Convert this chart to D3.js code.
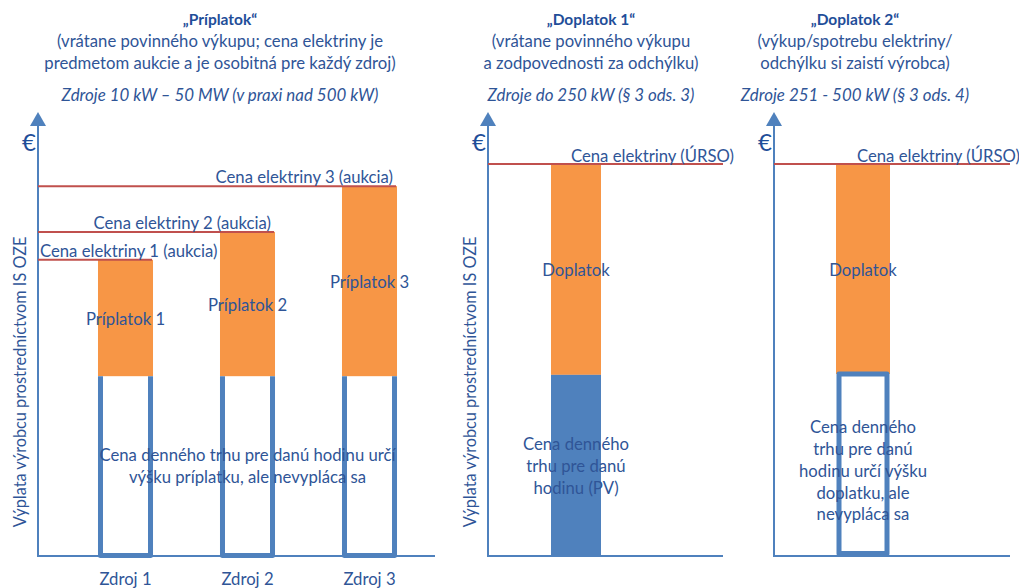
<!DOCTYPE html>
<html>
<head>
<meta charset="utf-8">
<script src="https://cdn.jsdelivr.net/npm/d3@7"></script>
<style>
  html, body { margin: 0; padding: 0; background: #fff; }
  svg { display: block; font-family: Lato, "Open Sans", sans-serif; }
</style>
</head>
<body>
<svg id="chart" width="1019" height="588"></svg>
<script>
// Schematic payout values (€, arbitrary units), one set per support scheme
const priplatokSources = ["Zdroj 1", "Zdroj 2", "Zdroj 3"];
const priplatokPrices = [66.7, 73.0, 83.3];      // auctioned electricity price
const priplatokMarket = [40.5, 40.5, 40.5];      // day-ahead market price
const priplatokLabels = ["Príplatok 1", "Príplatok 2", "Príplatok 3"];
const priplatokPriceLabels = ["Cena elektriny 1 (aukcia)", "Cena elektriny 2 (aukcia)", "Cena elektriny 3 (aukcia)"];

const doplatok1Price = 88.3;   // ÚRSO price
const doplatok1Market = 40.8;
const doplatok2Price = 88.3;
const doplatok2Market = 41.0;

const titles1 = ["„Príplatok“", "(vrátane povinného výkupu; cena elektriny je", "predmetom aukcie a je osobitná pre každý zdroj)", "Zdroje 10 kW – 50 MW (v praxi nad 500 kW)"];
const titles2 = ["„Doplatok 1“", "(vrátane povinného výkupu", "a zodpovednosti za odchýlku)", "Zdroje do 250 kW (§ 3 ods. 3)"];
const titles3 = ["„Doplatok 2“", "(výkup/spotrebu elektriny/", "odchýlku si zaistí výrobca)", "Zdroje 251 - 500 kW (§ 3 ods. 4)"];

const marketText1 = ["Cena denného trhu pre danú hodinu určí", "výšku príplatku, ale nevypláca sa"];
const marketText2 = ["Cena denného", "trhu pre danú", "hodinu (PV)"];
const marketText3 = ["Cena denného", "trhu pre danú", "hodinu určí výšku", "doplatku, ale", "nevypláca sa"];
const axisTitle = "Výplata výrobcu prostredníctvom IS OZE";
const ursoLabel = "Cena elektriny (ÚRSO)";
const doplatokLabel = "Doplatok";

const C = {
  axis: "#4F81BD",
  text: "#2F5597",
  title: "#1F4E99",
  orange: "#F79646",
  red: "#C0504D",
  blue: "#4F81BD"
};

const svg = d3.select("#chart");
const y = d3.scaleLinear().domain([0, 100]).range([556, 112]);
const FS = 16.7;

function titleBlock(cx, lines) {
  const g = svg.append("g").attr("fill", C.text).attr("text-anchor", "middle");
  g.append("text").attr("x", cx).attr("y", 25).attr("font-size", 15.5)
    .attr("font-weight", "bold").attr("fill", C.title).text(lines[0]);
  g.append("text").attr("x", cx).attr("y", 47).attr("font-size", FS).text(lines[1]);
  g.append("text").attr("x", cx).attr("y", 69).attr("font-size", FS).text(lines[2]);
  g.append("text").attr("x", cx).attr("y", 101).attr("font-size", 16.9)
    .attr("font-style", "italic").text(lines[3]);
}

function axes(x0, x1, withTitle) {
  const g = svg.append("g");
  const yTop = y(100) + 13;
  g.append("line").attr("x1", x0).attr("x2", x0).attr("y1", y(0)).attr("y2", yTop)
    .attr("stroke", C.axis).attr("stroke-width", 2);
  g.append("line").attr("x1", x0 - 1).attr("x2", x1).attr("y1", y(0)).attr("y2", y(0))
    .attr("stroke", C.axis).attr("stroke-width", 2);
  g.append("path")
    .attr("d", `M${x0},${y(100)} L${x0 + 8},${yTop + 1} L${x0 - 8},${yTop + 1} Z`)
    .attr("fill", C.axis);
  g.append("text").attr("x", x0 - 9).attr("y", 151).attr("text-anchor", "middle")
    .attr("font-size", 24).attr("fill", C.title).text("€");
  if (withTitle) {
    g.append("text")
      .attr("transform", `translate(${x0 - 18},382) rotate(-90)`)
      .attr("text-anchor", "middle").attr("dy", "0.35em")
      .attr("font-size", 16.3).attr("fill", C.text).text(axisTitle);
  }
}

function multiline(cx, cy, lines, lh) {
  const t = svg.append("text").attr("text-anchor", "middle").attr("font-size", FS).attr("fill", C.text);
  const n = lines.length;
  lines.forEach((s, i) => {
    t.append("tspan").attr("x", cx).attr("y", cy + (i - (n - 1) / 2) * lh).attr("dy", "0.35em").text(s);
  });
}

// ---------- Príplatok ----------
titleBlock(220, titles1);
const ax1 = 38, ax1End = 435;
axes(ax1, ax1End, true);

const x1 = d3.scaleBand().domain(priplatokSources).range([64.5, 430.5])
  .paddingInner(0.549).paddingOuter(0.2745);
const bw1 = x1.bandwidth();

const p1 = svg.append("g");
// price premium segments
p1.selectAll("rect.prem").data(priplatokSources).join("rect")
  .attr("class", "prem")
  .attr("x", d => x1(d))
  .attr("width", bw1)
  .attr("y", (d, i) => y(priplatokPrices[i]))
  .attr("height", (d, i) => y(priplatokMarket[i]) - y(priplatokPrices[i]))
  .attr("fill", C.orange);
// open outlines for the (unpaid) market price
const uLine = d3.line();
p1.selectAll("path.mkt").data(priplatokSources).join("path")
  .attr("class", "mkt")
  .attr("d", (d, i) => {
    const a = x1(d) + 2.5, b = x1(d) + bw1 - 2.5;
    return uLine([[a, y(priplatokMarket[i])], [a, y(0) - 0.5], [b, y(0) - 0.5], [b, y(priplatokMarket[i])]]);
  })
  .attr("fill", "none").attr("stroke", C.blue).attr("stroke-width", 5)
  .attr("stroke-linejoin", "round");
// auction price lines
p1.selectAll("line.price").data(priplatokSources).join("line")
  .attr("class", "price")
  .attr("x1", ax1).attr("x2", d => x1(d) + bw1 - 1)
  .attr("y1", (d, i) => y(priplatokPrices[i])).attr("y2", (d, i) => y(priplatokPrices[i]))
  .attr("stroke", C.red).attr("stroke-width", 2);
p1.selectAll("text.plab").data(priplatokSources).join("text")
  .attr("class", "plab")
  .attr("x", (d, i) => i === 0 ? ax1 + 2 : x1(d) + bw1 - 4)
  .attr("text-anchor", (d, i) => i === 0 ? "start" : "end")
  .attr("y", (d, i) => y(priplatokPrices[i]) - 3)
  .attr("font-size", FS).attr("fill", C.text)
  .text((d, i) => priplatokPriceLabels[i]);
p1.selectAll("text.prem").data(priplatokSources).join("text")
  .attr("class", "prem")
  .attr("x", d => x1(d) + bw1 / 2)
  .attr("y", (d, i) => (y(priplatokPrices[i]) + y(priplatokMarket[i])) / 2 + 1)
  .attr("dy", "0.35em").attr("text-anchor", "middle")
  .attr("font-size", FS).attr("fill", C.text)
  .text((d, i) => priplatokLabels[i]);
p1.selectAll("text.src").data(priplatokSources).join("text")
  .attr("class", "src")
  .attr("x", d => x1(d) + bw1 / 2).attr("y", 585)
  .attr("text-anchor", "middle").attr("font-size", FS).attr("fill", C.text)
  .text(d => d);
multiline(x1(priplatokSources[1]) + bw1 / 2, 466, marketText1, 22);

// ---------- Doplatok 1 ----------
titleBlock(591, titles2);
const ax2 = 488, ax2End = 723;
axes(ax2, ax2End, true);
const x2 = d3.scaleBand().domain(["PV"]).range([551, 601]);
const p2 = svg.append("g");
p2.append("rect").attr("x", x2("PV")).attr("width", x2.bandwidth())
  .attr("y", y(doplatok1Price)).attr("height", y(doplatok1Market) - y(doplatok1Price))
  .attr("fill", C.orange);
p2.append("rect").attr("x", x2("PV")).attr("width", x2.bandwidth())
  .attr("y", y(doplatok1Market)).attr("height", y(0) - y(doplatok1Market))
  .attr("fill", C.blue);
p2.append("line").attr("x1", ax2).attr("x2", ax2End)
  .attr("y1", y(doplatok1Price)).attr("y2", y(doplatok1Price))
  .attr("stroke", C.red).attr("stroke-width", 2);
p2.append("text").attr("x", 571).attr("y", y(doplatok1Price) - 2)
  .attr("font-size", FS).attr("fill", C.text).text(ursoLabel);
p2.append("text").attr("x", x2("PV") + x2.bandwidth() / 2)
  .attr("y", (y(doplatok1Price) + y(doplatok1Market)) / 2 + 1).attr("dy", "0.35em")
  .attr("text-anchor", "middle").attr("font-size", FS).attr("fill", C.text).text(doplatokLabel);
multiline(x2("PV") + x2.bandwidth() / 2, 466, marketText2, 22);

// ---------- Doplatok 2 ----------
titleBlock(855, titles3);
const ax3 = 774, ax3End = 1010;
axes(ax3, ax3End, false);
const x3 = d3.scaleBand().domain(["src"]).range([836, 890]);
const p3 = svg.append("g");
p3.append("rect").attr("x", x3("src")).attr("width", x3.bandwidth())
  .attr("y", y(doplatok2Price)).attr("height", y(doplatok2Market) - y(doplatok2Price))
  .attr("fill", C.orange);
p3.append("rect").attr("x", x3("src") + 3).attr("width", x3.bandwidth() - 6)
  .attr("y", y(doplatok2Market)).attr("height", y(0) - y(doplatok2Market) - 2.5)
  .attr("fill", "none").attr("stroke", C.blue).attr("stroke-width", 5)
  .attr("stroke-linejoin", "round");
p3.append("line").attr("x1", ax3).attr("x2", ax3End)
  .attr("y1", y(doplatok2Price)).attr("y2", y(doplatok2Price))
  .attr("stroke", C.red).attr("stroke-width", 2);
p3.append("text").attr("x", 857).attr("y", y(doplatok2Price) - 2)
  .attr("font-size", FS).attr("fill", C.text).text(ursoLabel);
p3.append("text").attr("x", x3("src") + x3.bandwidth() / 2)
  .attr("y", (y(doplatok2Price) + y(doplatok2Market)) / 2 + 1).attr("dy", "0.35em")
  .attr("text-anchor", "middle").attr("font-size", FS).attr("fill", C.text).text(doplatokLabel);
multiline(x3("src") + x3.bandwidth() / 2, 471, marketText3, 21.7);
</script>
</body>
</html>
